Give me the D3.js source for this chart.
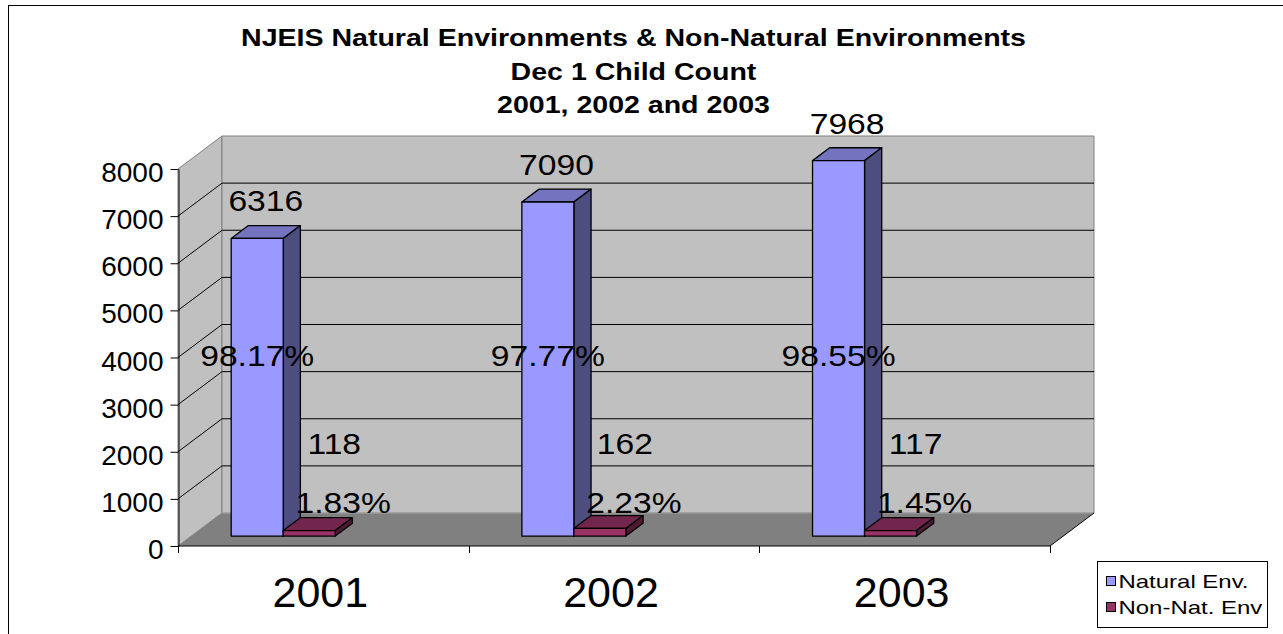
<!DOCTYPE html>
<html>
<head>
<meta charset="utf-8">
<script src="https://cdn.jsdelivr.net/npm/d3@7/dist/d3.min.js"></script>
<style>
  html, body { margin: 0; padding: 0; background: #fff; }
  svg { display: block; font-family: Arial, "Liberation Sans", sans-serif; }
</style>
</head>
<body>
<svg id="chart" width="1283" height="634"></svg>
<script>
// Dec 1 child count by year
const categories = ["2001", "2002", "2003"];
const naturalValues = [6316, 7090, 7968];
const nonNatValues = [118, 162, 117];
const naturalPct = ["98.17%", "97.77%", "98.55%"];
const nonNatPct = ["1.83%", "2.23%", "1.45%"];
const yTicks = [0, 1000, 2000, 3000, 4000, 5000, 6000, 7000, 8000];
const seriesNames = ["Natural Env.", "Non-Nat. Env"];
const titleLines = [
  "NJEIS Natural Environments & Non-Natural Environments",
  "Dec 1 Child Count",
  "2001, 2002 and 2003"
];

const svg = d3.select("#chart");

// outer frame
svg.append("rect").attr("x", 8.5).attr("y", 5.5)
  .attr("width", 1290).attr("height", 640)
  .attr("fill", "#fff").attr("stroke", "#000").attr("stroke-width", 1);

// front-plane scales, plus the oblique offset for the depth of the box
const x = d3.scaleBand().domain(categories).range([178, 1050]).padding(0);
const y = d3.scaleLinear().domain([0, 8000]).range([546, 169]);
const DX = 44, DY = 33;
const P = (px, v, z) => [px + z * DX, y(v) - z * DY];
const poly = pts => "M" + pts.map(p => p.join(",")).join("L") + "Z";

const [x0, x1] = x.range();
const vMax = y.domain()[1];

// side wall
svg.append("path")
  .attr("d", poly([P(x0, 0, 0), P(x0, vMax, 0), P(x0, vMax, 1), P(x0, 0, 1)]))
  .attr("fill", "#c0c0c0").attr("stroke", "#808080");
// back wall
svg.append("path")
  .attr("d", poly([P(x0, 0, 1), P(x0, vMax, 1), P(x1, vMax, 1), P(x1, 0, 1)]))
  .attr("fill", "#c0c0c0").attr("stroke", "#808080");

// gridlines along side and back walls
const grid = svg.append("g").attr("stroke", "#000").attr("stroke-width", 1).attr("fill", "none");
yTicks.filter(t => t > 0 && t < vMax).forEach(t => {
  grid.append("path").attr("d", "M" + P(x0, t, 0).join(",") + "L" + P(x0, t, 1).join(",") + "L" + P(x1, t, 1).join(","));
});

// floor
svg.append("path")
  .attr("d", poly([P(x0, 0, 0), P(x0, 0, 1), P(x1, 0, 1), P(x1, 0, 0)]))
  .attr("fill", "#808080").attr("stroke", "none");
svg.append("path")
  .attr("d", "M" + P(x0, 0, 1).join(",") + "L" + P(x1, 0, 1).join(","))
  .attr("stroke", "#a6a6a6").attr("fill", "none");
svg.append("path")
  .attr("d", "M" + P(x0, 0, 0).join(",") + "L" + P(x1, 0, 0).join(",") + "L" + P(x1, 0, 1).join(","))
  .attr("stroke", "#000").attr("fill", "none");

// y axis on the front edge
const yAxis = d3.axisLeft(y).tickValues(yTicks).tickSizeInner(8).tickSizeOuter(0).tickPadding(7)
  .tickFormat(d3.format("d"));
const yg = svg.append("g").attr("transform", `translate(${x0 + 0.5},0)`).call(yAxis);
yg.select(".domain").attr("stroke", "#000");
yg.selectAll(".tick line").attr("stroke", "#000");
yg.selectAll(".tick text").attr("font-size", 28).attr("font-family", "Arial, 'Liberation Sans', sans-serif")
  .attr("fill", "#000").attr("dy", "0.45em");

// category axis
const xAxis = d3.axisBottom(x).tickSize(0).tickPadding(30);
const xg = svg.append("g").attr("transform", `translate(0,${y(0)})`).call(xAxis);
xg.select(".domain").remove();
xg.selectAll(".tick text").attr("font-size", 43).attr("font-family", "Arial, 'Liberation Sans', sans-serif")
  .attr("fill", "#000").attr("dx", -3);
// boundary ticks between categories
const bounds = categories.map(c => x(c)).concat([x1]);
svg.append("g").selectAll("line").data(bounds).join("line")
  .attr("x1", d => Math.round(d) + 0.5).attr("x2", d => Math.round(d) + 0.5)
  .attr("y1", y(0)).attr("y2", y(0) + 7).attr("stroke", "#000");

// bars
const bw = x.bandwidth();
const zF = 0.3, zB = 0.69;
const series = [
  { values: naturalValues, off: 0.1376, front: "#9999ff", top: "#7373bf", side: "#4d4d80" },
  { values: nonNatValues, off: 0.1376 + 0.179, front: "#993366", top: "#73264d", side: "#4d1a33" }
];
const barW = 0.179 * bw;

const barsG = svg.append("g").attr("stroke", "#000").attr("stroke-width", 1.3).attr("stroke-linejoin", "round");
series.forEach(s => {
  categories.forEach((c, i) => {
    const v = s.values[i];
    const l = x(c) + s.off * bw, r = l + barW;
    const g = barsG.append("g");
    g.append("path").attr("d", poly([P(l, v, zF), P(r, v, zF), P(r, v, zB), P(l, v, zB)])).attr("fill", s.top);
    g.append("path").attr("d", poly([P(r, 0, zF), P(r, v, zF), P(r, v, zB), P(r, 0, zB)])).attr("fill", s.side);
    g.append("path").attr("d", poly([P(l, 0, zF), P(l, v, zF), P(r, v, zF), P(r, 0, zF)])).attr("fill", s.front);
  });
});

// data labels
const SX = 1.16;
const labelFont = 29;
function stretchedText(parent, tx, ty, str, size, sx, weight, anchor) {
  const g = parent.append("g").attr("transform", `translate(${tx},${ty}) scale(${sx},1)`);
  g.append("text").attr("text-anchor", anchor || "middle").attr("font-size", size)
    .attr("font-weight", weight || "normal").attr("fill", "#000").text(str);
  return g;
}
const labels = svg.append("g");
categories.forEach((c, i) => {
  const lN = x(c) + series[0].off * bw;
  const lO = x(c) + series[1].off * bw;
  const topN = P(lN + barW / 2, naturalValues[i], (zF + zB) / 2);
  stretchedText(labels, topN[0], P(lN, naturalValues[i], zF)[1] - 27, String(naturalValues[i]), labelFont, SX);
  stretchedText(labels, P(lN + barW / 2, 0, zF)[0], y(3810), naturalPct[i], labelFont, SX);
  stretchedText(labels, P(lO + barW / 2, 0, zF)[0] + 25, y(1950), String(nonNatValues[i]), labelFont, SX);
  stretchedText(labels, P(lO + barW / 2, 0, zF)[0] + 34, y(700), nonNatPct[i], labelFont, SX);
});

// title
const tcx = 633.5;
[46, 79.5, 113].forEach((by, i) => {
  stretchedText(svg, tcx, by, titleLines[i], 24, 1.19, "bold");
});

// legend
const lg = svg.append("g").attr("transform", "translate(1097.5,561.5)");
lg.append("rect").attr("width", 170).attr("height", 66).attr("fill", "#fff").attr("stroke", "#000");
const legendColors = [series[0].front, series[1].front];
seriesNames.forEach((name, i) => {
  const cy = 20 + i * 26;
  lg.append("rect").attr("x", 9).attr("y", cy - 5).attr("width", 9).attr("height", 9)
    .attr("fill", legendColors[i]).attr("stroke", "#000");
  stretchedText(lg, 21, cy + 6, name, 17.5, 1.37, "normal", "start");
});
</script>
</body>
</html>
